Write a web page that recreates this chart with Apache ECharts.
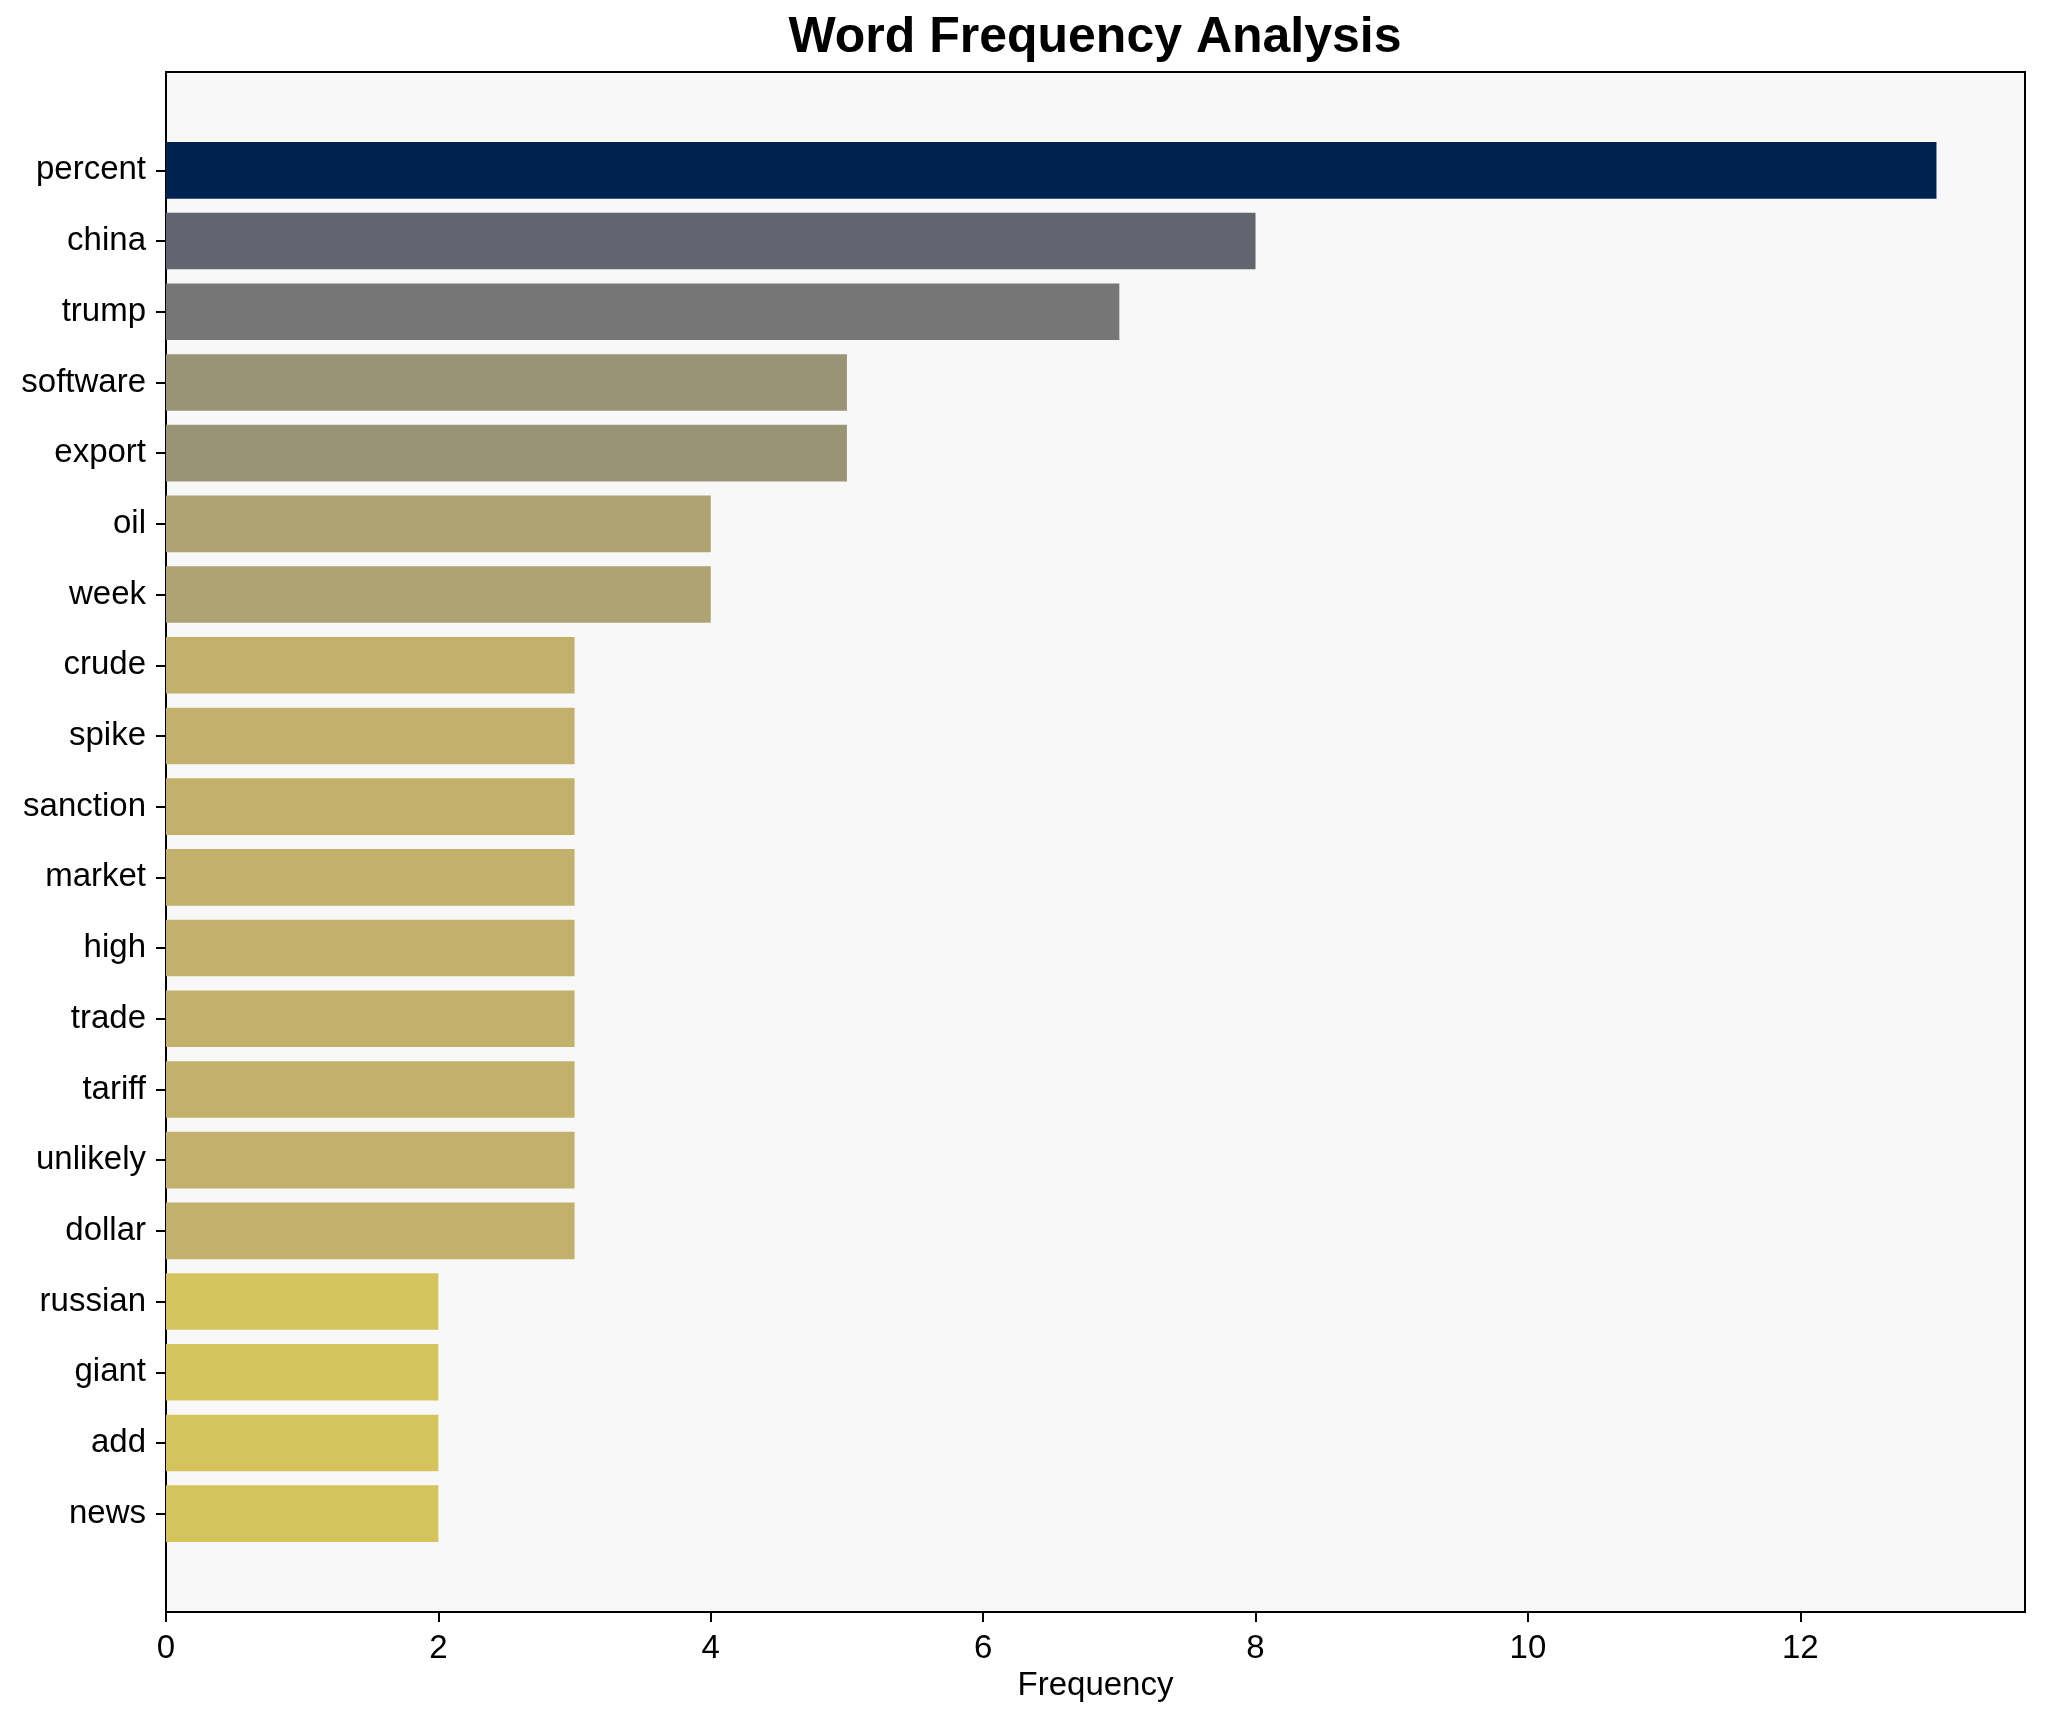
<!DOCTYPE html>
<html>
<head>
<meta charset="utf-8">
<script src="https://cdn.jsdelivr.net/npm/echarts@6/dist/echarts.min.js"></script>
<style>
html,body{margin:0;padding:0;background:#fff;}
#chart{width:2045px;height:1722px;}
</style>
</head>
<body>
<div id="chart"></div>
<script>
const words = ['percent','china','trump','software','export','oil','week','crude','spike','sanction','market','high','trade','tariff','unlikely','dollar','russian','giant','add','news'];
const counts = [13,8,7,5,5,4,4,3,3,3,3,3,3,3,3,3,2,2,2,2];
const colorByCount = {13:'#00224e', 8:'#62646f', 7:'#767676', 5:'#9a9477', 4:'#ada373', 3:'#c1b16b', 2:'#d5c45e'};
const xTicks = [0,2,4,6,8,10,12];
const xMax = 13.65;

const FONT = 'Liberation Sans, Arial, sans-serif';
const chart = echarts.init(document.getElementById('chart'), null, {renderer:'canvas'});
chart.setOption({
  backgroundColor:'#ffffff',
  animation:false,
  title:{
    text:'Word Frequency Analysis',
    left:1095, top:13, padding:0, textAlign:'center',
    textStyle:{fontFamily:FONT, fontWeight:'bold', fontSize:50, color:'#000'}
  },
  grid:[
    {left:166, right:20, top:135, bottom:173, show:false, containLabel:false},
    {left:166, right:20, top:72, bottom:110, show:true, backgroundColor:'#f8f8f8', borderColor:'#000', borderWidth:2, z:0}
  ],
  xAxis:[
    {gridIndex:0, type:'value', min:0, max:xMax, show:false},
    {gridIndex:1, type:'value', min:0, max:xMax, interval:2,
     name:'Frequency', nameLocation:'middle', nameGap:52,
     nameTextStyle:{fontFamily:FONT, fontSize:33, color:'#000'},
     axisLine:{show:false},
     axisTick:{show:true, length:10, inside:false, lineStyle:{color:'#000', width:2}, customValues:xTicks},
     axisLabel:{show:true, margin:20, fontFamily:FONT, fontSize:33, color:'#000', customValues:xTicks},
     splitLine:{show:false}}
  ],
  yAxis:[
    {gridIndex:0, type:'category', data:words, inverse:true,
     axisLine:{show:false},
     axisTick:{show:true, length:10, alignWithLabel:true, lineStyle:{color:'#000', width:2}},
     axisLabel:{margin:20, fontFamily:FONT, fontSize:33, color:'#000', padding:[5,0,0,0]},
     splitLine:{show:false}},
    {gridIndex:1, type:'value', min:0, max:1, show:false}
  ],
  series:[{
    type:'bar', xAxisIndex:0, yAxisIndex:0,
    barWidth:'80%',
    data: counts.map(v => ({value:v, itemStyle:{color:colorByCount[v]}})),
    z:2
  }]
});
</script>
</body>
</html>
